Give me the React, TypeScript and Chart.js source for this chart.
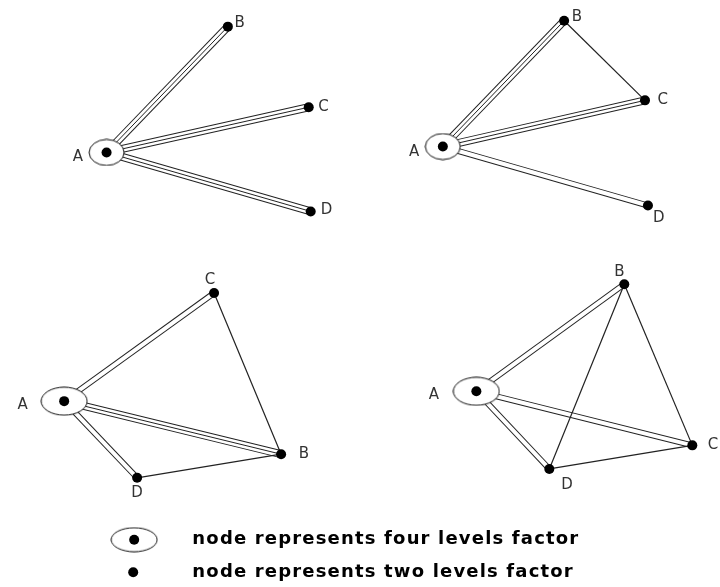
import { useEffect, useRef } from "react";
import { Chart, registerables } from "chart.js";

Chart.register(...registerables);

// node id, node position, label position (same units as the 720x587 page)
type GraphNode = { id: string; x: number; y: number; lx: number; ly: number };
// from, to, number of parallel strokes
type GraphEdge = [string, string, number];

const topLeftNodes: GraphNode[] = [
  { id: "A", x: 103, y: 150, lx: 74, ly: 155 },
  { id: "B", x: 226, y: 22, lx: 238, ly: 18 },
  { id: "C", x: 308, y: 104, lx: 323, ly: 104 },
  { id: "D", x: 310, y: 210, lx: 326, ly: 209 },
];
const topLeftEdges: GraphEdge[] = [
  ["A", "B", 3],
  ["A", "C", 3],
  ["A", "D", 3],
];

const topRightNodes: GraphNode[] = [
  { id: "A", x: 444, y: 144, lx: 415, ly: 150 },
  { id: "B", x: 567, y: 16, lx: 580, ly: 12 },
  { id: "C", x: 649, y: 97, lx: 667, ly: 97 },
  { id: "D", x: 652, y: 204, lx: 663, ly: 217 },
];
const topRightEdges: GraphEdge[] = [
  ["A", "B", 3],
  ["A", "C", 3],
  ["A", "D", 2],
  ["B", "C", 1],
];

const bottomLeftNodes: GraphNode[] = [
  { id: "A", x: 60, y: 403, lx: 18, ly: 407 },
  { id: "C", x: 212, y: 293, lx: 208, ly: 280 },
  { id: "B", x: 280, y: 457, lx: 303, ly: 457 },
  { id: "D", x: 134, y: 481, lx: 134, ly: 497 },
];
const bottomLeftEdges: GraphEdge[] = [
  ["A", "C", 2],
  ["A", "B", 3],
  ["A", "D", 2],
  ["C", "B", 1],
  ["D", "B", 1],
];

const bottomRightNodes: GraphNode[] = [
  { id: "A", x: 478, y: 393, lx: 435, ly: 397 },
  { id: "B", x: 628, y: 284, lx: 623, ly: 272 },
  { id: "C", x: 697, y: 448, lx: 718, ly: 448 },
  { id: "D", x: 552, y: 472, lx: 570, ly: 488 },
];
const bottomRightEdges: GraphEdge[] = [
  ["A", "B", 2],
  ["A", "C", 2],
  ["A", "D", 2],
  ["B", "D", 1],
  ["B", "C", 1],
  ["D", "C", 1],
];

// the four levels factor in every graph
const fourLevelNode = "A";

const legendLabels = [
  "node represents four levels factor",
  "node represents two levels factor",
];
const legendMarkX = [131, 130];
const legendRowY = [544, 577];
const legendTextX = 190;

const panels = [
  { nodes: topLeftNodes, edges: topLeftEdges, ring: [35, 26] },
  { nodes: topRightNodes, edges: topRightEdges, ring: [35, 26] },
  { nodes: bottomLeftNodes, edges: bottomLeftEdges, ring: [46, 28] },
  { nodes: bottomRightNodes, edges: bottomRightEdges, ring: [46, 28] },
];

const INK = "#222";

function makeRing(w: number, h: number) {
  const c = document.createElement("canvas");
  c.width = w + 2;
  c.height = h + 2;
  const g = c.getContext("2d");
  if (g) {
    g.beginPath();
    g.ellipse((w + 2) / 2, (h + 2) / 2, w / 2, h / 2, 0, 0, Math.PI * 2);
    g.fillStyle = "#fff";
    g.fill();
    g.strokeStyle = "#111";
    g.lineWidth = 1;
    g.stroke();
  }
  return c;
}

const textPlugin = {
  id: "graphText",
  afterDatasetsDraw(chart: Chart) {
    const { ctx } = chart;
    const xs = chart.scales.x;
    const ys = chart.scales.y;
    ctx.save();
    ctx.fillStyle = "#333";
    ctx.font = "15px 'DejaVu Sans'";
    ctx.textAlign = "center";
    ctx.textBaseline = "middle";
    panels.forEach((p) =>
      p.nodes.forEach((n) =>
        ctx.fillText(n.id, xs.getPixelForValue(n.lx), ys.getPixelForValue(n.ly))
      )
    );

    ctx.fillStyle = "#000";
    ctx.font = "bold 18px 'DejaVu Sans'";
    ctx.textAlign = "left";
    const natural = ctx.measureText(legendLabels[0]).width;
    const spacing = (387 - natural) / legendLabels[0].length;
    (ctx as any).letterSpacing = `${spacing}px`;
    legendLabels.forEach((t, i) =>
      ctx.fillText(t, xs.getPixelForValue(legendTextX), ys.getPixelForValue(legendRowY[i]))
    );
    ctx.restore();
  },
};

function buildDatasets() {
  const datasets: any[] = [];
  const layer = (pts: { x: number; y: number }[], color: string, width: number, order: number) =>
    datasets.push({
      data: pts,
      showLine: true,
      borderColor: color,
      borderWidth: width,
      pointRadius: 0,
      order,
      clip: false,
    });

  panels.forEach((p) => {
    const at = (id: string) => p.nodes.find((n) => n.id === id)!;
    p.edges.forEach(([a, b, k]) => {
      const pts = [
        { x: at(a).x, y: at(a).y },
        { x: at(b).x, y: at(b).y },
      ];
      if (k === 1) layer(pts, INK, 1.2, 30);
      if (k === 2) {
        layer(pts, INK, 6, 50);
        layer(pts, "#fff", 4, 40);
      }
      if (k === 3) {
        layer(pts, INK, 8, 50);
        layer(pts, "#fff", 6, 40);
        layer(pts, INK, 1, 30);
      }
    });

    const ring = at(fourLevelNode);
    datasets.push({
      data: [{ x: ring.x, y: ring.y }],
      pointStyle: makeRing(p.ring[0], p.ring[1]),
      order: 20,
      clip: false,
    });
    datasets.push({
      data: p.nodes.map((n) => ({ x: n.x, y: n.y })),
      pointRadius: 5,
      backgroundColor: "#000",
      borderWidth: 0,
      order: 10,
      clip: false,
    });
  });

  // legend marks
  datasets.push({
    data: [{ x: legendMarkX[0], y: legendRowY[0] }],
    pointStyle: makeRing(46, 24),
    order: 20,
    clip: false,
  });
  datasets.push({
    data: legendMarkX.map((x, i) => ({ x, y: legendRowY[i] })),
    pointRadius: 5,
    backgroundColor: "#000",
    borderWidth: 0,
    order: 10,
    clip: false,
  });
  return datasets;
}

function FactorGraphs() {
  const chartRef = useRef<HTMLCanvasElement | null>(null);
  const chartInstance = useRef<Chart | null>(null);

  useEffect(() => {
    if (!chartRef.current) return;
    const ctx = chartRef.current.getContext("2d");
    if (!ctx) return;

    if (chartInstance.current) {
      chartInstance.current.destroy();
    }

    chartInstance.current = new Chart(ctx, {
      type: "scatter",
      data: { datasets: buildDatasets() },
      options: {
        animation: false,
        responsive: false,
        events: [],
        layout: { padding: 0 },
        plugins: {
          legend: { display: false },
          tooltip: { enabled: false },
        },
        scales: {
          x: { type: "linear", min: 0, max: 720, display: false },
          y: { type: "linear", min: 0, max: 587, reverse: true, display: false },
        },
      },
      plugins: [textPlugin],
    });

    return () => {
      if (chartInstance.current) {
        chartInstance.current.destroy();
        chartInstance.current = null;
      }
    };
  }, []);

  return (
    <div style={{ position: "absolute", left: 0, top: 0, width: 720, height: 587, background: "#fff" }}>
      <canvas ref={chartRef} width={720} height={587} />
    </div>
  );
}

export default function App() {
  return <FactorGraphs />;
}
